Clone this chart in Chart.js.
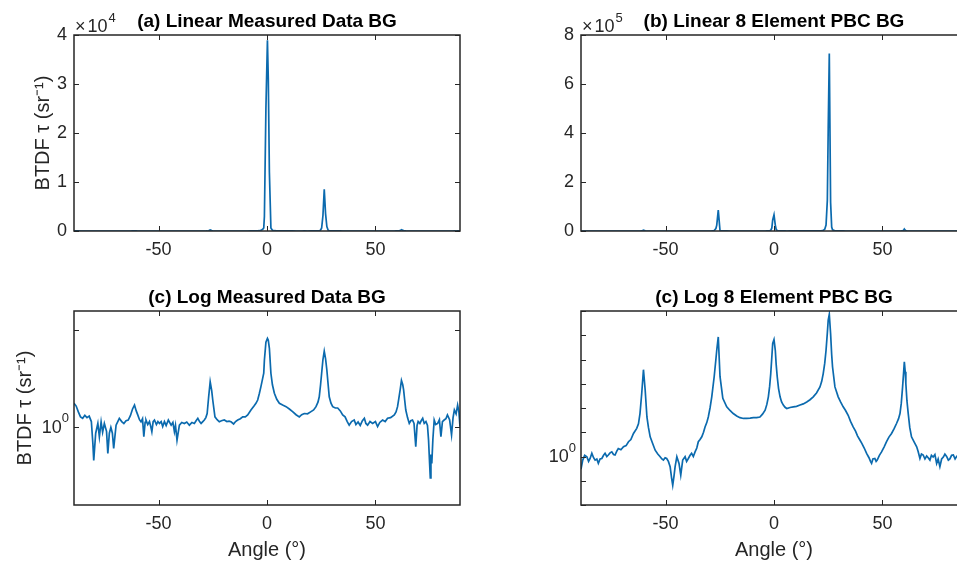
<!DOCTYPE html>
<html>
<head>
<meta charset="utf-8">
<script src="https://cdn.jsdelivr.net/npm/chart.js@4.4.1/dist/chart.umd.min.js"></script>
<style>
  html, body { margin: 0; padding: 0; background: #fff; width: 957px; height: 565px; overflow: hidden; }
  .panel { position: absolute; }
</style>
</head>
<body>
<div class="panel" style="left:0;top:0"><canvas id="panel-a" width="480" height="280"></canvas></div>
<div class="panel" style="left:477px;top:0"><canvas id="panel-b" width="510" height="280"></canvas></div>
<div class="panel" style="left:0;top:280px"><canvas id="panel-c" width="480" height="285"></canvas></div>
<div class="panel" style="left:477px;top:280px"><canvas id="panel-d" width="510" height="285"></canvas></div>
<script>
// Измеренные данные BG (угол, BTDF)
const measAngle = [
  -89, -88, -87, -86, -85, -84, -83, -82, -81, -80.3,
  -79.9, -79, -78, -77.3, -76.5, -75.8, -75, -74, -73.4, -72.7,
  -72, -71.3, -70.7, -69.6, -68.1, -67, -66, -65, -64, -63,
  -62, -61.1, -60.3, -59.6, -58.8, -58.1, -57.4, -56.8, -56.2, -55.8,
  -55, -54.2, -53.6, -53.1, -52.5, -51.9, -51, -50.3, -49.6, -48.8,
  -48.1, -47.3, -46.5, -45.5, -44.2, -43.4, -42.7, -42.2, -41.5, -40.4,
  -39.3, -38.1, -37, -35.8, -34.6, -33.5, -32.7, -31.9, -31.1, -30.4,
  -29.6, -28.9, -28.2, -27.6, -26.9, -26.2, -25.5, -25, -24, -23,
  -22, -21, -19.7, -18.5, -17.5, -16.6, -15.4, -14.5, -13.5, -12.3,
  -11.2, -10, -8.9, -7.4, -6, -5.1, -4.3, -3.5, -2.8, -2,
  -1.5, -1.2, -0.5, 0.2, 0.6, 1.1, 1.8, 2.5, 3.4, 4.5,
  5.7, 7.2, 8.8, 10.3, 11.8, 13.4, 14.9, 16, 17.2, 18.7,
  20.3, 21.5, 22.6, 23.5, 24.1, 24.7, 25.2, 25.8, 26.4, 27,
  27.6, 28.2, 28.7, 29.5, 30.3, 31.5, 32.6, 33.8, 34.9, 36,
  37, 37.9, 39, 40.2, 41, 42, 43, 44, 44.9, 45.6,
  46.4, 47.5, 48.7, 50, 51, 52, 53.3, 54.5, 55.6, 57,
  58.7, 59.5, 60.2, 60.8, 61.4, 62, 62.6, 63, 63.5, 64,
  64.8, 65.6, 66.3, 67.1, 67.8, 68.6, 69.2, 69.7, 70.5, 71.1,
  71.8, 72.5, 73.3, 74, 74.5, 75, 75.3, 75.6, 76, 76.5,
  77.1, 77.8, 78.7, 79.5, 80.2, 80.9, 81.7, 82.5, 83.2, 84.2,
  85.1, 85.8, 86.4, 87.2, 87.9, 88.5, 89
];
const measBTDF = [
  17.4, 12.6, 6.3, 3.5, 2.95, 4.2, 3.2, 3.8, 2.0, 0.15,
  0.02, 0.5, 1.6, 0.33, 1.95, 0.56, 1.6, 0.63, 0.046, 0.5,
  1.0, 0.5, 0.083, 1.3, 2.95, 2.0, 1.6, 2.2, 2.4, 4.0,
  8.9, 14.1, 7.1, 4.4, 2.5, 1.95, 2.8, 0.33, 1.8, 2.4,
  1.4, 2.0, 1.1, 0.6, 2.0, 2.4, 1.4, 2.0, 1.6, 2.0,
  1.1, 2.0, 1.26, 2.4, 1.3, 1.8, 0.6, 1.26, 0.22, 1.3,
  1.8, 1.6, 1.9, 1.3, 1.8, 1.6, 2.2, 2.95, 2.0, 1.6,
  2.0, 2.4, 3.2, 5.2, 38, 224, 79, 25, 3.5, 2.5,
  1.95, 2.2, 2.4, 2.0, 2.1, 1.95, 1.5, 2.0, 2.4, 2.8,
  3.5, 3.5, 4.4, 7.9, 12.6, 17.4, 25.7, 57.5, 126, 339,
  631, 2950, 25000, 38900, 31000, 12000, 617, 158, 57.5, 28,
  17.4, 14.1, 11.7, 8.9, 6.5, 4.5, 3.5, 4.5, 5.2, 5.0,
  6.5, 7.9, 11.7, 20, 38, 158, 617, 3160, 8510, 3550,
  912, 158, 38, 17.8, 11.7, 10, 10, 7.1, 4.4, 3.5,
  2.0, 1.3, 2.0, 2.4, 1.4, 1.9, 1.26, 2.2, 2.95, 1.6,
  1.3, 2.0, 1.6, 2.0, 1.1, 1.8, 2.4, 2.0, 2.95, 3.2,
  4.4, 6.3, 11.7, 31.6, 85, 263, 158, 85, 25, 7.9,
  3.2, 1.6, 2.2, 2.4, 1.6, 0.10, 1.26, 2.0, 1.6, 2.2,
  2.95, 1.6, 2.0, 1.26, 0.22, 0.0126, 0.0025, 0.04, 0.014, 0.25,
  2.4, 1.4, 1.6, 2.5, 0.33, 2.0, 2.4, 2.8, 4.4, 2.5,
  0.41, 3.2, 7.9, 5.0, 14.1, 6.3, 1.1
];

// 8-элементная модель PBC BG (угол, BTDF)
const pbcAngle = [
  -89, -88.2, -87.3, -86.3, -85.5, -84.8, -84, -83.2, -82.5, -81.7,
  -81, -80.2, -79.4, -78.6, -77.9, -77.1, -76.4, -75.6, -74.8, -74,
  -73.3, -72.5, -71.8, -70.6, -69.4, -68.2, -67.1, -66, -64.8, -63.3,
  -62.5, -61.8, -61, -60.2, -59.4, -58.6, -57.9, -57.1, -56, -54.8,
  -53.6, -52.5, -51.7, -51, -50.2, -49.5, -48.7, -47.9, -47.2, -46.7,
  -46.1, -45.6, -44.8, -43.8, -43, -42.1, -41, -40.3, -39.5, -38.7,
  -38, -37.2, -36.4, -35.6, -34.9, -34.1, -33.3, -32.5, -31.8, -31,
  -30.3, -29.5, -28.7, -27.6, -26.8, -26.4, -25.7, -24.9, -23.6, -21.8,
  -20.3, -18.8, -17.2, -15.7, -14.1, -12.6, -11, -9.5, -8, -6.5,
  -5.3, -4.1, -3.3, -2.6, -2, -1.5, -1, -0.6, 0, 0.6,
  1, 1.5, 2.1, 2.8, 3.5, 4.3, 5.1, 5.9, 7.4, 8.9,
  10.4, 12, 13.5, 15.1, 16.6, 18.1, 19.6, 21.2, 22, 22.7,
  23.4, 24, 24.6, 25, 25.5, 26.1, 26.6, 27, 28.1, 29.6,
  30.7, 31.9, 33, 34.2, 35.3, 36.5, 37.6, 38.5, 39.6, 40.5,
  41.6, 42.7, 43.8, 44.5, 45, 45.6, 46.5, 47.1, 47.6, 48.6,
  49.6, 50.8, 51.9, 53, 54.2, 55.4, 56.5, 57.4, 58.1, 58.7,
  59.3, 59.8, 60.1, 60.5, 60.8, 61.3, 61.9, 62.6, 63.4, 64.6,
  65.8, 66.5, 67.3, 68, 68.8, 69.6, 70.4, 71.1, 71.9, 72.6,
  73.4, 74.2, 75, 75.7, 76.5, 77.3, 78.1, 78.8, 79.6, 80.4,
  81.1, 81.9, 82.7, 83.5, 84.2, 85.5, 87, 89
];
const pbcBTDF = [
  0.3, 0.71, 1.12, 0.98, 0.63, 0.83, 1.35, 0.89, 0.71, 0.79,
  0.52, 0.79, 0.83, 1.12, 1.35, 1.0, 1.15, 1.41, 1.55, 1.2,
  1.15, 1.66, 2.14, 1.9, 2.51, 2.82, 4.07, 5.0, 8.9, 14.5,
  22.4, 59, 398, 3800, 537, 42.7, 15.8, 6.5, 3.5, 1.82,
  1.26, 0.98, 0.79, 0.71, 0.89, 0.83, 0.63, 0.38, 0.126, 0.066,
  0.16, 0.38, 0.98, 0.52, 0.17, 0.71, 0.98, 0.63, 0.83, 1.12,
  1.35, 1.0, 1.55, 2.24, 4.07, 5.0, 6.5, 10, 16.6, 25,
  42.7, 100, 288, 1900, 10000, 24000, 85000, 2000, 251, 112,
  79, 59, 47, 40, 37, 37, 38, 40, 40, 42.7,
  56, 81, 141, 288, 794, 2630, 12600, 45700, 66000, 24000,
  6300, 1900, 631, 288, 178, 132, 107, 95, 105, 112,
  117, 132, 148, 178, 219, 288, 417, 741, 1260, 2630,
  7080, 24000, 126000, 417000, 724000, 117000, 15800, 4900, 741, 288,
  178, 112, 79, 50, 28, 16.6, 11.2, 7.1, 4.8, 3.5,
  2.24, 1.35, 0.89, 0.63, 0.52, 0.79, 0.83, 0.63, 0.71, 1.12,
  1.55, 2.5, 4.07, 6.3, 8.9, 14.1, 22.9, 35.5, 59, 158,
  741, 3160, 7940, 3160, 1020, 200, 59, 15.8, 6.5, 4.0,
  2.5, 1.58, 0.83, 1.26, 1.15, 0.79, 1.05, 0.89, 0.71, 1.12,
  0.95, 1.2, 0.52, 0.79, 0.38, 0.79, 0.95, 1.26, 1.0, 0.71,
  0.79, 1.12, 1.15, 0.79, 1.0, 1.26, 0.89, 1.12
];

// Деления осей
const angleTicks = [-50, 0, 50];
const linTicksA = [0, 1e4, 2e4, 3e4, 4e4];
const linTicksB = [0, 2e5, 4e5, 6e5, 8e5];
const logTicksC = [1e0, 1e5];
const logTicksD = [1e-2, 1e-1, 1e0, 1e1, 1e2, 1e3, 1e4, 1e5, 1e6];

const FONT = "'Liberation Sans', Arial, Helvetica, sans-serif";
const TXT = '#262626';
const LINE = '#0b6aae';

// Рамка осей, внутренние засечки, множитель ×10^n и подпись 10^0
const framePlugin = {
  id: 'frame',
  afterDraw(chart, args, opts) {
    const { ctx, chartArea: a, scales: { x, y } } = chart;
    ctx.save();
    ctx.strokeStyle = TXT;
    ctx.lineWidth = 1;
    ctx.beginPath();
    x.ticks.forEach(t => {
      const px = Math.round(x.getPixelForValue(t.value)) + 0.5;
      ctx.moveTo(px, a.bottom); ctx.lineTo(px, a.bottom - 5);
      ctx.moveTo(px, a.top); ctx.lineTo(px, a.top + 5);
    });
    y.ticks.forEach(t => {
      const py = Math.round(y.getPixelForValue(t.value)) + 0.5;
      ctx.moveTo(a.left, py); ctx.lineTo(a.left + 5, py);
      ctx.moveTo(a.right, py); ctx.lineTo(a.right - 5, py);
    });
    ctx.stroke();
    ctx.lineWidth = 1.5;
    ctx.strokeRect(a.left, a.top, a.right - a.left, a.bottom - a.top);

    ctx.fillStyle = TXT;
    ctx.textAlign = 'left';
    ctx.textBaseline = 'alphabetic';
    if (opts.exp) {
      ctx.font = '18px ' + FONT;
      ctx.fillText('\u00d7', a.left + 1, a.top - 3);
      const wx = ctx.measureText('\u00d7').width;
      ctx.fillText('10', a.left + 3 + wx, a.top - 3);
      const w = ctx.measureText('10').width;
      ctx.font = '13px ' + FONT;
      ctx.fillText(opts.exp, a.left + 4 + wx + w, a.top - 13);
    }
    if (opts.logLabel) {
      const py = y.getPixelForValue(1);
      ctx.font = '13px ' + FONT;
      const ws = ctx.measureText('0').width;
      ctx.fillText('0', a.left - 5 - ws, py - 5);
      ctx.font = '18px ' + FONT;
      ctx.textAlign = 'right';
      ctx.textBaseline = 'middle';
      ctx.fillText('10', a.left - 5 - ws, py + 1);
    }
    ctx.restore();
  }
};

function makePanel(id, cfg) {
  const pts = cfg.angles.map((a, i) => ({ x: a, y: cfg.values[i] }));
  return new Chart(document.getElementById(id), {
    type: 'line',
    data: {
      datasets: [{
        data: pts,
        borderColor: LINE,
        borderWidth: 1.7,
        pointRadius: 0,
        tension: 0,
        fill: false
      }]
    },
    options: {
      responsive: false,
      animation: false,
      events: [],
      layout: { padding: { left: 0, right: 20, top: 0, bottom: 0 } },
      plugins: {
        legend: { display: false },
        tooltip: { enabled: false },
        title: {
          display: true,
          text: cfg.title,
          fullSize: false,
          color: '#000',
          font: { family: FONT, size: 19, weight: 'bold' },
          padding: cfg.titlePad
        },
        frame: { exp: cfg.exp, logLabel: cfg.logLabel }
      },
      scales: {
        x: {
          type: 'linear',
          min: -89,
          max: 89,
          afterBuildTicks: s => { s.ticks = angleTicks.map(v => ({ value: v })); },
          afterFit: s => { s.height = cfg.bottom; },
          grid: { display: false, drawTicks: false },
          border: { display: false },
          ticks: { color: TXT, font: { family: FONT, size: 18 }, padding: 8, maxRotation: 0, autoSkip: false },
          title: {
            display: !!cfg.xTitle,
            text: cfg.xTitle || '',
            color: TXT,
            font: { family: FONT, size: 20 },
            padding: { top: 0, bottom: 3 }
          }
        },
        y: {
          type: cfg.yType,
          min: cfg.yMin,
          max: cfg.yMax,
          afterBuildTicks: s => { s.ticks = cfg.yTicks.map(v => ({ value: v })); },
          afterFit: s => { s.width = cfg.left; },
          grid: { display: false, drawTicks: false },
          border: { display: false },
          ticks: {
            color: TXT,
            font: { family: FONT, size: 18 },
            padding: 7,
            autoSkip: false,
            callback: v => cfg.yLabel(v)
          },
          title: {
            display: !!cfg.yTitle,
            text: cfg.yTitle || '',
            color: TXT,
            font: { family: FONT, size: 20 },
            padding: { top: cfg.yTitlePad || 0, bottom: 0 }
          }
        }
      }
    },
    plugins: [framePlugin]
  });
}

const yTitle = 'BTDF \u03c4 (sr\u207b\u00b9)';

makePanel('panel-a', {
  angles: measAngle, values: measBTDF,
  title: '(a) Linear Measured Data BG',
  titlePad: { top: 10, bottom: 2.2 },
  yType: 'linear', yMin: 0, yMax: 4e4, yTicks: linTicksA,
  yLabel: v => String(v / 1e4),
  exp: '4',
  left: 74, bottom: 49,
  yTitle: yTitle, yTitlePad: 31.5
});

makePanel('panel-b', {
  angles: pbcAngle, values: pbcBTDF,
  title: '(b) Linear 8 Element PBC BG',
  titlePad: { top: 10, bottom: 2.2 },
  yType: 'linear', yMin: 0, yMax: 8e5, yTicks: linTicksB,
  yLabel: v => String(v / 1e5),
  exp: '5',
  left: 104, bottom: 49
});

makePanel('panel-c', {
  angles: measAngle, values: measBTDF,
  title: '(c) Log Measured Data BG',
  titlePad: { top: 6, bottom: 2.2 },
  yType: 'logarithmic', yMin: 1e-4, yMax: 1e6, yTicks: logTicksC,
  yLabel: () => '',
  logLabel: true,
  left: 74, bottom: 60,
  xTitle: 'Angle (\u00b0)',
  yTitle: yTitle, yTitlePad: 13.3
});

makePanel('panel-d', {
  angles: pbcAngle, values: pbcBTDF,
  title: '(c) Log 8 Element PBC BG',
  titlePad: { top: 6, bottom: 2.2 },
  yType: 'logarithmic', yMin: 1e-2, yMax: 1e6, yTicks: logTicksD,
  yLabel: () => '',
  logLabel: true,
  left: 104, bottom: 60,
  xTitle: 'Angle (\u00b0)'
});
</script>
</body>
</html>
